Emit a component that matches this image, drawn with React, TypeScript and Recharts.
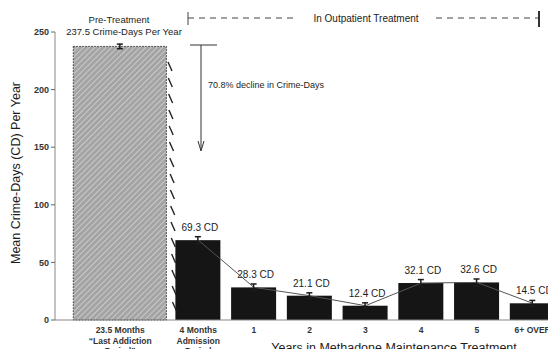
import React from "react";
import {
  ComposedChart,
  Bar,
  Line,
  XAxis,
  YAxis,
  ErrorBar,
  LabelList,
} from "recharts";

// one entry per bar, left to right
const categories = [
  ["23.5 Months", "\u201CLast Addiction", "Period\u201D"],
  ["4 Months", "Admission", "Period"],
  ["1"],
  ["2"],
  ["3"],
  ["4"],
  ["5"],
  ["6+ OVER"],
];
const positions = [0.6, 2, 3, 4, 5, 6, 7, 8];
const crimeDays = [237.5, 69.3, 28.3, 21.1, 12.4, 32.1, 32.6, 14.5];
const errors = [2, 3, 3, 2.5, 2.5, 3, 3, 2.5];
const yTicks = [0, 50, 100, 150, 200, 250];

const FONT = "'Liberation Sans', Arial, sans-serif";
const INK = "#1c1c1c";

const data = positions.map((pos, i) => ({
  pos,
  value: crimeDays[i],
  err: errors[i],
  pre: i === 0,
  trend: i === 0 ? null : crimeDays[i],
  label: i === 0 ? "" : `${crimeDays[i]} CD`,
}));

const labelFor = (pos: number) => categories[positions.indexOf(pos)] || [];

const XTick = (props: any) => {
  const { x, y, payload } = props;
  const lines = labelFor(payload.value);
  return (
    <g>
      {lines.map((t, i) => (
        <text
          key={i}
          x={x}
          y={y + 5 + i * 10.5}
          textAnchor="middle"
          fontSize={8.5}
          fontWeight="bold"
          fill="#333"
          fontFamily={FONT}
        >
          {t}
        </text>
      ))}
    </g>
  );
};

const ValueLabel = (props: any) => {
  const { x, y, width, value } = props;
  if (!value) return null;
  return (
    <text
      x={x + width / 2 + 2}
      y={y - 9}
      textAnchor="middle"
      fontSize={10}
      fill={INK}
      fontFamily={FONT}
    >
      {value}
    </text>
  );
};

const BarShape = (props: any) => {
  const { x, y, width, height, payload } = props;
  if (payload.pre) {
    const w = width * 2.07;
    return (
      <rect
        x={x + width / 2 - w / 2}
        y={y}
        width={w}
        height={height}
        fill="url(#hatch)"
        stroke="#333"
        strokeWidth={1}
        strokeDasharray="1.5 1.5"
      />
    );
  }
  return <rect x={x} y={y} width={width} height={height} fill="#151515" />;
};

export default function App() {
  // little falling strokes between the pre-treatment bar and admission bar
  const strokes: number[] = [];
  for (let yy = 62; yy < 312; yy += 16) strokes.push(yy);

  return (
    <div
      style={{
        margin: -8,
        width: 556,
        height: 357,
        overflow: "hidden",
        position: "relative",
        background: "#fff",
      }}
    >
      <ComposedChart
        width={570}
        height={357}
        data={data}
        margin={{ top: 32, right: 5, bottom: 7, left: 0 }}
      >
        <defs>
          <pattern
            id="hatch"
            width="4"
            height="4"
            patternUnits="userSpaceOnUse"
            patternTransform="rotate(45)"
          >
            <rect width="4" height="4" fill="#a4a4a4" />
            <line x1="0" y1="0" x2="0" y2="4" stroke="#dedede" strokeWidth="1.3" />
          </pattern>
        </defs>
        <XAxis
          type="number"
          dataKey="pos"
          domain={[-0.57, 8.58]}
          ticks={positions}
          tick={<XTick />}
          tickLine={false}
          axisLine={{ stroke: "#888" }}
          height={30}
          allowDataOverflow
        />
        <YAxis
          domain={[0, 250]}
          ticks={yTicks}
          width={55}
          tickSize={4}
          tickLine={{ stroke: "#666" }}
          axisLine={{ stroke: "#888" }}
          tick={{ fontSize: 9, fontWeight: "bold", fill: "#333", fontFamily: FONT }}
        />
        <Line
          dataKey="trend"
          stroke="#555"
          strokeWidth={1}
          dot={false}
          isAnimationActive={false}
          connectNulls
        />
        <Bar
          dataKey="value"
          barSize={45}
          shape={<BarShape />}
          isAnimationActive={false}
        >
          <ErrorBar dataKey="err" width={3} stroke={INK} strokeWidth={1.5} direction="y" />
          <LabelList dataKey="label" content={<ValueLabel />} />
        </Bar>
      </ComposedChart>

      <svg
        width={556}
        height={357}
        style={{ position: "absolute", left: 0, top: 0, pointerEvents: "none" }}
        fontFamily={FONT}
      >
        <text x={119} y={23} textAnchor="middle" fontSize={9.5} fill={INK}>
          Pre-Treatment
        </text>
        <text x={124} y={35} textAnchor="middle" fontSize={9.5} fill={INK}>
          {`${crimeDays[0]} Crime-Days Per Year`}
        </text>

        {/* outpatient bracket */}
        <line x1={188} y1={12} x2={188} y2={25} stroke="#444" />
        <line x1={188} y1={18} x2={298} y2={18} stroke="#444" strokeDasharray="6 5" />
        <text x={366} y={21.5} textAnchor="middle" fontSize={10} fill={INK}>
          In Outpatient Treatment
        </text>
        <line x1={436} y1={18} x2={538} y2={18} stroke="#444" strokeDasharray="6 5" />
        <line x1={539} y1={11} x2={539} y2={27} stroke="#333" strokeWidth={2} />

        {/* decline arrow */}
        <line x1={190} y1={45} x2={217} y2={45} stroke="#333" />
        <line x1={201} y1={45} x2={201} y2={150} stroke="#333" />
        <path d="M198,141 L201,151 L204,141" fill="none" stroke="#333" />
        <text x={208} y={88} fontSize={9} fill={INK}>
          70.8% decline in Crime-Days
        </text>

        {strokes.map((yy, i) => (
          <line
            key={i}
            x1={168 + i * 0.3}
            y1={yy}
            x2={172 + i * 0.3}
            y2={yy + 9}
            stroke="#222"
            strokeWidth={1.4}
          />
        ))}

        <text x={394} y={352} textAnchor="middle" fontSize={12.5} fill={INK}>
          Years in Methadone Maintenance Treatment
        </text>
        <text
          x={0}
          y={0}
          transform="translate(20,173) rotate(-90)"
          textAnchor="middle"
          fontSize={12.5}
          fill={INK}
        >
          Mean Crime-Days (CD) Per Year
        </text>
      </svg>
    </div>
  );
}
